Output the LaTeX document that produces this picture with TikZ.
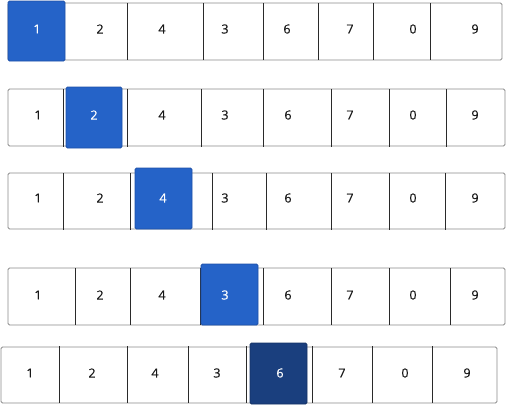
\documentclass[tikz,border=0pt]{standalone}
\usepackage{fontspec}
\setmainfont{Open Sans}
\newfontfamily\digitfont[FakeBold=0.4]{Open Sans}
\definecolor{hiblue}{HTML}{2563C8}
\definecolor{hiborder}{HTML}{1E50A8}
\definecolor{darkhi}{HTML}{1A3F7E}
\definecolor{rowborder}{HTML}{8A8A8A}
\definecolor{divcol}{HTML}{2A2A2A}
\tikzset{
  rowbox/.style={draw=rowborder, line width=0.8pt, rounded corners=1.5pt, fill=white},
  divider/.style={draw=divcol, line width=0.7pt},
  digit/.style={font=\digitfont\fontsize{12.5}{14}\selectfont, text=black!90, inner sep=0pt},
  hidigit/.style={font=\digitfont\fontsize{12.5}{14}\selectfont, text=white, inner sep=0pt},
  hibox/.style={fill=hiblue, draw=hiborder, line width=0.8pt, rounded corners=1.5pt},
  darkbox/.style={fill=darkhi, draw=darkhi!80!black, line width=0.8pt, rounded corners=1.5pt}
}
\begin{document}
\begin{tikzpicture}[x=1pt,y=-1pt]
\useasboundingbox (0,0) rectangle (506,405);
% ---------- row 1 ----------
\draw[rowbox] (8,3) rectangle (502,60);
\foreach \d in {127,203,263,318,373,430} \draw[divider] (\d,3) -- (\d,60);
\draw[hibox] (8,1) rectangle (65,61);
\foreach \x/\t/\s [count=\i] in {37/1/hidigit,100/2/digit,162/4/digit,225/3/digit,287/6/digit,350/7/digit,413/0/digit,475/9/digit}
  \node[\s] (ra\i) at (\x,29) {\t};
% ---------- row 2 ----------
\draw[rowbox] (8,89) rectangle (505,146);
\foreach \d in {63,127,201,263,331,389,446} \draw[divider] (\d,89) -- (\d,147);
\draw[hibox] (66,87) rectangle (122,148);
\foreach \x/\t/\s [count=\i] in {38/1/digit,94/2/hidigit,162/4/digit,225/3/digit,288/6/digit,350/7/digit,413/0/digit,475/9/digit}
  \node[\s] (rb\i) at (\x,115) {\t};
% ---------- row 3 ----------
\draw[rowbox] (8,173) rectangle (505,229);
\foreach \d in {63,130,212,266,331,389,445} \draw[divider] (\d,173) -- (\d,230);
\draw[hibox] (135,168) rectangle (192,229);
\foreach \x/\t/\s [count=\i] in {38/1/digit,100/2/digit,163/4/hidigit,225/3/digit,288/6/digit,350/7/digit,413/0/digit,475/9/digit}
  \node[\s] (rc\i) at (\x,198) {\t};
% ---------- row 4 ----------
\draw[rowbox] (8,268) rectangle (505,325);
\foreach \d in {75,130,200,263,331,389,450} \draw[divider] (\d,268) -- (\d,325);
\draw[hibox] (201,264) rectangle (258,325);
\foreach \x/\t/\s [count=\i] in {38/1/digit,100/2/digit,162/4/digit,225/3/hidigit,288/6/digit,350/7/digit,413/0/digit,475/9/digit}
  \node[\s] (rd\i) at (\x,295) {\t};
% ---------- row 5 ----------
\draw[rowbox] (1,347) rectangle (497,403);
\foreach \d in {59,127,188,246,312,372,432} \draw[divider] (\d,346) -- (\d,403);
\draw[darkbox] (250,343) rectangle (307,404);
\foreach \x/\t/\s [count=\i] in {30/1/digit,92/2/digit,155/4/digit,217/3/digit,280/6/hidigit,342/7/digit,405/0/digit,467/9/digit}
  \node[\s] (re\i) at (\x,373) {\t};
\end{tikzpicture}
\end{document}
